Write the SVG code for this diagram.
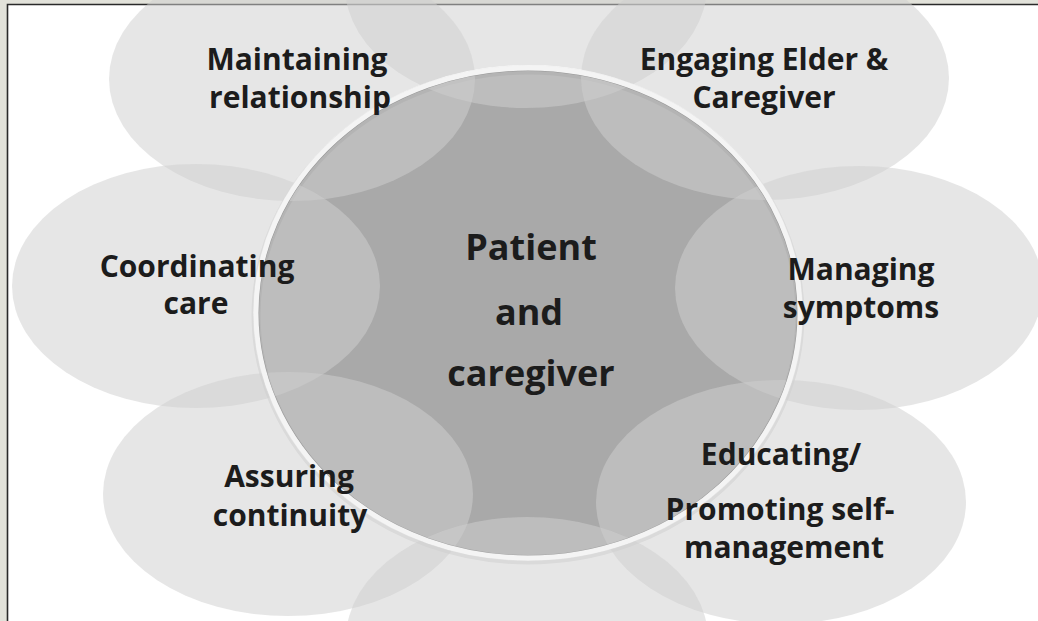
<svg xmlns="http://www.w3.org/2000/svg" width="1038" height="621" viewBox="0 0 1038 621">
  <style>
    .sat { fill: #cfcfcf; fill-opacity: 0.52; }
    .lbl { font-family: "Open Sans", "Liberation Sans", sans-serif; font-weight: 700; font-size: 30px; fill: #1c1c1c; text-anchor: middle; }
    .hub { font-size: 36px; }
  </style>
  <defs>
    <!-- keeps the satellites from veiling the bright rim of the hub -->
    <mask id="rimGap" maskUnits="userSpaceOnUse" x="0" y="0" width="1038" height="621">
      <rect x="0" y="0" width="1038" height="621" fill="#fff"/>
      <ellipse cx="528" cy="313" rx="272" ry="245" fill="none" stroke="#000" stroke-width="6"/>
    </mask>
  </defs>

  <!-- page frame -->
  <rect x="0" y="0" width="1038" height="621" fill="#e2e2da"/>
  <rect x="7" y="4" width="1031" height="617" fill="#ffffff"/>
  <path d="M7.5 621 V4.5 H1038" fill="none" stroke="#2a2a2a" stroke-width="1.6"/>

  <!-- hub -->
  <g id="hub">
    <ellipse cx="528" cy="313" rx="272" ry="245" fill="#a9a9a9"/>
    <ellipse cx="528" cy="315" rx="272" ry="245" fill="none" stroke="#000" stroke-opacity="0.1" stroke-width="9"/>
    <ellipse cx="528" cy="313" rx="272" ry="245" fill="none" stroke="#f4f4f4" stroke-width="5"/>
    <text class="lbl hub" x="531" y="260">Patient</text>
    <text class="lbl hub" x="529" y="325">and</text>
    <text class="lbl hub" x="531" y="386">caregiver</text>
  </g>

  <!-- satellites -->
  <g id="top-petal">
    <ellipse class="sat" cx="526" cy="-14" rx="181" ry="122" mask="url(#rimGap)"/>
  </g>
  <g id="maintaining-relationship">
    <ellipse class="sat" cx="292" cy="79" rx="183" ry="122" mask="url(#rimGap)"/>
    <text class="lbl" x="297" y="70">Maintaining</text>
    <text class="lbl" x="300" y="108">relationship</text>
  </g>
  <g id="engaging-elder-caregiver">
    <ellipse class="sat" cx="765" cy="78" rx="184" ry="122" mask="url(#rimGap)"/>
    <text class="lbl" x="764" y="70">Engaging Elder &amp;</text>
    <text class="lbl" x="764" y="108">Caregiver</text>
  </g>
  <g id="coordinating-care">
    <ellipse class="sat" cx="196" cy="286" rx="184" ry="122" mask="url(#rimGap)"/>
    <text class="lbl" x="197" y="277">Coordinating</text>
    <text class="lbl" x="196" y="314">care</text>
  </g>
  <g id="managing-symptoms">
    <ellipse class="sat" cx="859" cy="288" rx="184" ry="122" mask="url(#rimGap)"/>
    <text class="lbl" x="861" y="280">Managing</text>
    <text class="lbl" x="861" y="318">symptoms</text>
  </g>
  <g id="assuring-continuity">
    <ellipse class="sat" cx="288" cy="494" rx="185" ry="122" mask="url(#rimGap)"/>
    <text class="lbl" x="289" y="487">Assuring</text>
    <text class="lbl" x="290" y="526">continuity</text>
  </g>
  <g id="educating-self-management">
    <ellipse class="sat" cx="781" cy="502" rx="185" ry="122" mask="url(#rimGap)"/>
    <text class="lbl" x="781" y="465">Educating/</text>
    <text class="lbl" x="780" y="520">Promoting self-</text>
    <text class="lbl" x="784" y="558">management</text>
  </g>
  <g id="bottom-petal">
    <ellipse class="sat" cx="527" cy="639" rx="181" ry="122" mask="url(#rimGap)"/>
  </g>

  <!-- no connectors in this radial layout -->
  <g id="connectors"/>
</svg>
